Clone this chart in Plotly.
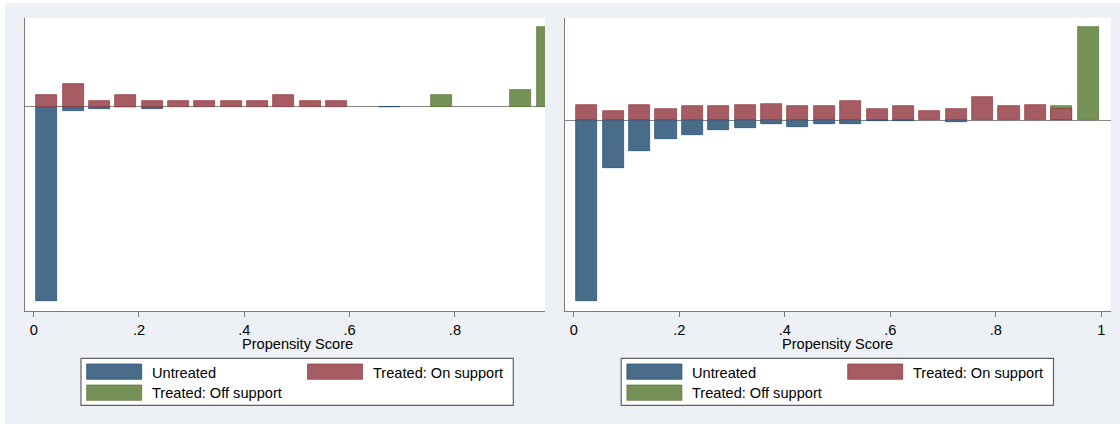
import plotly.graph_objects as go

# ---------------- data ----------------
bin_centers = [0.025, 0.075, 0.125, 0.175, 0.225, 0.275, 0.325, 0.375, 0.425, 0.475,
               0.525, 0.575, 0.625, 0.675, 0.725, 0.775, 0.825, 0.875, 0.925, 0.975]

series_names = ["Untreated", "Treated: On support", "Treated: Off support"]

# left panel (untreated drawn as negative density)
left_untreated = [-32.3, -0.67, -0.38, -0.08, -0.28, None, None, None, None, None,
                  None, None, None, -0.08, None, None, None, None, None, None]
left_on_support = [2.0, 3.8, 1.0, 2.0, 1.0, 1.0, 1.0, 1.0, 1.0, 2.0,
                   1.0, 1.0, None, None, None, None, None, None, None, None]
left_off_support = [None, None, None, None, None, None, None, None, None, None,
                    None, None, None, None, None, 2.0, None, None, 2.8, 13.3]

# right panel
right_untreated = [-30.17, -7.95, -5.22, -3.17, -2.55, -1.62, -1.28, -0.62, -1.22, -0.72,
                   -0.62, -0.17, -0.17, None, -0.33, None, None, None, None, None]
right_on_support = [2.53, 1.57, 2.53, 1.8, 2.3, 2.3, 2.53, 2.75, 2.3, 2.3,
                    3.2, 1.8, 2.3, 1.57, 1.8, 3.82, 2.3, 2.53, 1.8, None]
right_off_support = [None, None, None, None, None, None, None, None, None, None,
                     None, None, None, None, None, None, None, None, 2.3, 15.45]

left_ticks = [0, 0.2, 0.4, 0.6, 0.8]
left_ticktext = ["0", ".2", ".4", ".6", ".8"]
right_ticks = [0, 0.2, 0.4, 0.6, 0.8, 1.0]
right_ticktext = ["0", ".2", ".4", ".6", ".8", "1"]
axis_title = "Propensity Score"

# ---------------- style ----------------
W, H = 1120, 424
FILL = ["rgb(73,108,139)", "rgb(166,92,99)", "rgb(118,145,88)"]
EDGE = ["rgb(26,71,111)", "rgb(144,53,59)", "rgb(85,117,47)"]
BG = "#EDF0F5"
AXC = "#7a7a7a"
FONT = dict(family="Liberation Sans, Arial, sans-serif", size=14.6, color="#000000")
BAR_W = 0.04


def fx(px):
    return px / W


def fy(py):
    return 1 - py / H


fig = go.Figure()

# draw order: untreated, off support, on support (on support over off support)
panels = [
    ("x", "y", left_untreated, left_on_support, left_off_support),
    ("x2", "y2", right_untreated, right_on_support, right_off_support),
]
for xa, ya, unt, on, off in panels:
    for idx, vals in ((0, unt), (2, off), (1, on)):
        fig.add_trace(go.Bar(
            x=bin_centers, y=vals, width=BAR_W, name=series_names[idx],
            xaxis=xa, yaxis=ya, showlegend=False,
            marker=dict(color=FILL[idx], line=dict(color=EDGE[idx], width=0.7)),
            hoverinfo="skip",
        ))

common_x = dict(showline=True, linecolor=AXC, linewidth=1.3, ticks="outside",
                ticklen=5, tickwidth=1.3, tickcolor=AXC, showgrid=False,
                zeroline=False, tickfont=FONT, mirror=False)
common_y = dict(showline=True, linecolor=AXC, linewidth=1.3, showticklabels=False,
                ticks="", showgrid=False, zeroline=True, zerolinecolor="#858585",
                zerolinewidth=1.3)

y_dom = [fy(311), fy(18)]

fig.update_layout(
    width=W, height=H,
    margin=dict(l=0, r=0, t=0, b=0),
    paper_bgcolor=BG, plot_bgcolor="white",
    barmode="overlay", bargap=0,
    showlegend=False,
    font=FONT,
    xaxis=dict(domain=[fx(25), fx(545)], range=[-0.0165, 0.9711], anchor="y",
               tickvals=left_ticks, ticktext=left_ticktext, **common_x),
    yaxis=dict(domain=y_dom, range=[-34.0, 14.83], anchor="x", **common_y),
    xaxis2=dict(domain=[fx(565), fx(1110.7)], range=[-0.0165, 1.0178], anchor="y2",
                tickvals=right_ticks, ticktext=right_ticktext, **common_x),
    yaxis2=dict(domain=y_dom, range=[-31.83, 17.0], anchor="x2", **common_y),
)

shapes = [
    # white strips at the very left and top of the image
    dict(type="rect", xref="paper", yref="paper", x0=0, x1=fx(5), y0=0, y1=1,
         fillcolor="white", line=dict(width=0), layer="below"),
    dict(type="rect", xref="paper", yref="paper", x0=0, x1=1, y0=fy(3), y1=1,
         fillcolor="white", line=dict(width=0), layer="below"),
]
annotations = []

# x-axis titles
for cx in (297.3, 837.0):
    annotations.append(dict(text=axis_title, xref="paper", yref="paper",
                            x=fx(cx), y=fy(343.5), xanchor="center", yanchor="middle",
                            showarrow=False, font=FONT))

# legends (one per panel)
for dx in (0.0, 540.2):
    shapes.append(dict(type="rect", xref="paper", yref="paper",
                       x0=fx(81 + dx), x1=fx(513.3 + dx), y0=fy(405.3), y1=fy(358.3),
                       fillcolor="white", line=dict(color="#606060", width=1.2)))
    entries = [(0, 86.7, 364.0, 150.0, 372.5),
               (1, 307.5, 364.0, 371.0, 372.5),
               (2, 86.7, 385.0, 150.0, 393.0)]
    for idx, sx, sy, tx, ty in entries:
        shapes.append(dict(type="rect", xref="paper", yref="paper",
                           x0=fx(sx + dx), x1=fx(sx + 55 + dx), y0=fy(sy + 15.3), y1=fy(sy),
                           fillcolor=FILL[idx], line=dict(color=EDGE[idx], width=0.7)))
        annotations.append(dict(text=series_names[idx], xref="paper", yref="paper",
                                x=fx(tx + dx), y=fy(ty), xanchor="left", yanchor="middle",
                                showarrow=False, font=FONT))

fig.update_layout(shapes=shapes, annotations=annotations)

fig.write_html(
    "out.html",
    config={"displayModeBar": False},
    post_script="document.body.style.margin='0';document.body.style.overflow='hidden';",
)
